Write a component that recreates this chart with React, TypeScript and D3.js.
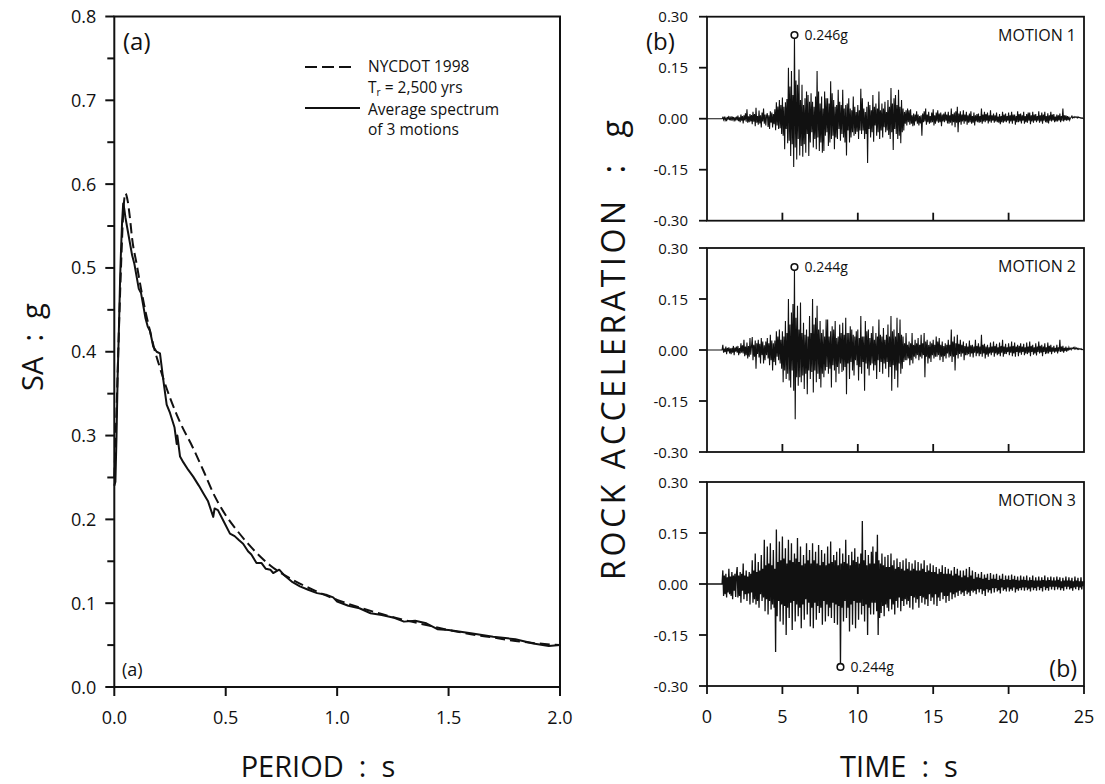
import * as d3 from "d3";

// (a) response spectra: NYCDOT 1998 design spectrum vs average of the 3 motions
const designPeriod = [0, 0.01, 0.02, 0.03, 0.04, 0.05, 0.06, 0.07, 0.08, 0.1, 0.12, 0.14, 0.16, 0.18, 0.2, 0.22, 0.25, 0.28, 0.3, 0.35, 0.4, 0.45, 0.5, 0.55, 0.6, 0.65, 0.7, 0.8, 0.9, 1.0, 1.1, 1.2, 1.3, 1.4, 1.5, 1.6, 1.7, 1.8, 1.9, 2.0];
const designSA = [0.25, 0.33, 0.42, 0.5, 0.565, 0.589, 0.58, 0.56, 0.535, 0.505, 0.475, 0.448, 0.425, 0.403, 0.385, 0.368, 0.345, 0.325, 0.313, 0.287, 0.258, 0.228, 0.205, 0.187, 0.171, 0.157, 0.145, 0.128, 0.115, 0.104, 0.095, 0.087, 0.08, 0.074, 0.068, 0.063, 0.059, 0.055, 0.052, 0.05];

const avgPeriod = [0, 0.005, 0.01, 0.015, 0.02, 0.026, 0.03, 0.035, 0.04, 0.045, 0.05, 0.06, 0.07, 0.08, 0.09, 0.1, 0.11, 0.12, 0.13, 0.14, 0.15, 0.16, 0.175, 0.19, 0.205, 0.22, 0.235, 0.25, 0.27, 0.28, 0.283, 0.295, 0.31, 0.332, 0.354, 0.38, 0.4, 0.42, 0.444, 0.45, 0.465, 0.49, 0.519, 0.54, 0.56, 0.578, 0.6, 0.615, 0.638, 0.66, 0.68, 0.7, 0.713, 0.74, 0.76, 0.8, 0.833, 0.87, 0.91, 0.95, 0.982, 1.0, 1.05, 1.1, 1.15, 1.2, 1.25, 1.3, 1.35, 1.4, 1.45, 1.5, 1.6, 1.7, 1.8, 1.88, 1.95, 2.0];
const avgSA = [0.24, 0.245, 0.3, 0.37, 0.42, 0.486, 0.52, 0.555, 0.577, 0.57, 0.56, 0.545, 0.53, 0.515, 0.505, 0.49, 0.475, 0.47, 0.455, 0.44, 0.43, 0.425, 0.406, 0.4, 0.398, 0.366, 0.337, 0.327, 0.31, 0.29, 0.3, 0.275, 0.268, 0.259, 0.251, 0.24, 0.231, 0.222, 0.203, 0.213, 0.211, 0.198, 0.183, 0.18, 0.175, 0.171, 0.162, 0.158, 0.148, 0.148, 0.141, 0.14, 0.136, 0.14, 0.134, 0.125, 0.12, 0.116, 0.112, 0.11, 0.107, 0.102, 0.097, 0.094, 0.088, 0.086, 0.083, 0.078, 0.079, 0.076, 0.069, 0.068, 0.064, 0.06, 0.057, 0.052, 0.049, 0.05];

const saTicks = [0, 0.1, 0.2, 0.3, 0.4, 0.5, 0.6, 0.7, 0.8];
const saMinorTicks = [0.05, 0.15, 0.25, 0.35, 0.45, 0.55, 0.65, 0.75];
const periodTicks = [0, 0.5, 1.0, 1.5, 2.0];

// (b) rock acceleration records, traced every 0.05 s from t = 1.0 s, in 0.001 g
// (one row = one second)
const ONSET = 1.0;
const DT = 0.05;
const motion1 = [
  0, 4, -3, 6, -5, 2, -7, 5, -3, 8, -4, 3, -6, 7, -2, 5, -8, 4, -3, 6,
  -5, 9, -7, 4, -10, 12, -6, 8, -14, 10, -5, 16, -9, 28, -12, 7, -10, 14, -8, 11,
  -16, 20, -9, 14, -22, 32, -12, 8, -18, 24, -14, 10, -26, 18, -8, 30, -15, 12, -20, 9,
  16, -24, 10, -30, 22, -12, 18, -26, 14, -16, 28, -34, 48, -20, 36, -30, 55, -28, 40, -45,
  62, -50, 35, -90, 48, -30, 58, -72, 150, -65, 95, -110, 140, -75, 70, -142, 246, -85, 112, -120,
  100, -60, 145, -108, 55, -80, 100, -112, 40, -75, 60, -100, 80, -45, 70, -110, 50, -70, 75, -40,
  50, -85, 35, -60, 65, -90, 140, -55, 80, -95, 45, -70, 65, -100, 30, -95, 80, -50, 60, -40,
  60, -80, 45, -70, 110, -60, 75, -50, 55, -90, 35, -55, 40, -60, 85, -30, 50, -65, 40, -45,
  85, -55, 30, -70, 40, -108, 45, -35, 60, -70, 30, -55, 25, -40, 65, -50, 35, -45, 20, -38,
  40, -60, 25, -35, 88, -45, 60, -35, 30, -60, 20, -45, 35, -130, 50, -30, 40, -55, 25, -40,
  70, -68, 35, -20, 45, -50, 30, -40, 80, -60, 25, -35, 45, -55, 30, -25, 50, -40, 20, -35,
  55, -48, 35, -60, 90, -40, 45, -92, 60, -30, 70, -45, 40, -60, 85, -50, 35, -72, 55, -40,
  30, -35, 20, -15, 25, -20, 30, -10, 25, -18, 28, -15, 10, -22, 15, -20, 12, -8, 22, -15,
  12, -20, 8, -14, 10, -50, 15, -10, 22, -8, 30, -18, 12, -10, 20, -15, 8, -12, 18, -10,
  28, -20, 10, -15, 18, -8, 25, -12, 15, -10, 18, -22, 12, -8, 15, -10, 20, -6, 12, -14,
  20, -15, 10, -12, 30, -20, 14, -10, 18, -25, 22, -12, 35, -40, 15, -10, 22, -18, 12, -8,
  25, -15, 12, -8, 20, -18, 10, -12, 15, -10, 22, -15, 8, -12, 18, -20, 10, -8, 14, -10,
  15, -12, 8, -10, 30, -15, 12, -8, 20, -10, 14, -6, 18, -14, 10, -8, 25, -12, 10, -6,
  15, -12, 10, -8, 18, -10, 6, -12, 14, -16, 8, -10, 20, -12, 12, -8, 15, -10, 8, -6,
  18, -14, 10, -8, 20, -15, 12, -6, 12, -18, 8, -10, 22, -10, 14, -8, 15, -14, 10, -6,
  20, -15, 8, -10, 14, -12, 18, -6, 18, -16, 10, -8, 20, -12, 12, -6, 14, -10, 8, -6,
  22, -12, 10, -8, 18, -15, 12, -6, 20, -10, 8, -12, 16, -14, 10, -6, 20, -8, 12, -5,
  14, -10, 6, -8, 12, -8, 10, -5, 15, -10, 8, -6, 30, -8, 10, -4, 10, -6, 8, -4,
  6, -4, 2, 4, 8, 2, 5, 3, 6, 4, 5, 2, 6, 3, 4, 2, 3, 1, 2, 0,
  0,
];
const motion2 = [
  0, 15, -8, 4, -6, 10, -12, 6, -4, 8, -10, 5, -12, 6, -8, 12, -15, 7, -5, 10,
  -8, 12, -15, 6, -10, 20, -8, 14, -10, 30, -18, 10, -15, 22, -25, 12, -20, 35, -14, 10,
  38, -30, 15, -20, 28, -55, 20, -12, 30, -22, 18, -40, 35, -15, 25, -40, 14, -30, 25, -15,
  35, -25, 20, -45, 45, -30, 28, -60, 20, -35, 28, -45, 55, -20, 40, -30, 60, -40, 30, -55,
  55, -95, 40, -60, 85, -85, 50, -70, 150, -90, 75, -110, 110, -60, 135, -120, 244, -204, 95, -80,
  130, -105, 60, -80, 140, -95, 50, -75, 80, -115, 45, -70, 60, -130, 40, -60, 100, -85, 50, -65,
  150, -125, 75, -60, 95, -95, 130, -70, 60, -85, 85, -110, 50, -70, 60, -80, 40, -60, 90, -50,
  90, -70, 40, -55, 55, -110, 70, -45, 60, -60, 85, -95, 35, -50, 40, -70, 75, -40, 50, -65,
  80, -60, 45, -50, 95, -130, 50, -40, 50, -85, 70, -35, 60, -60, 45, -75, 40, -30, 55, -45,
  60, -90, 35, -50, 100, -70, 40, -35, 40, -120, 85, -40, 55, -55, 60, -75, 35, -45, 50, -40,
  70, -60, 30, -45, 50, -85, 40, -30, 90, -65, 45, -35, 40, -70, 65, -40, 30, -55, 45, -35,
  75, -80, 40, -50, 100, -120, 55, -45, 60, -85, 40, -60, 95, -110, 50, -40, 90, -70, 45, -55,
  40, -35, 20, -30, 50, -30, 15, -25, 25, -45, 20, -30, 50, -40, 15, -20, 30, -25, 20, -15,
  35, -30, 15, -20, 45, -25, 20, -15, 50, -80, 25, -20, 30, -40, 15, -25, 25, -35, 20, -15,
  30, -25, 15, -20, 40, -20, 25, -15, 35, -30, 15, -20, 25, -35, 12, -18, 20, -25, 15, -10,
  30, -22, 15, -18, 60, -35, 25, -20, 40, -60, 20, -15, 45, -25, 18, -12, 30, -20, 15, -10,
  25, -30, 12, -15, 20, -15, 10, -12, 28, -20, 14, -10, 15, -22, 10, -8, 30, -18, 12, -10,
  20, -18, 10, -12, 45, -20, 15, -10, 18, -25, 10, -14, 15, -20, 8, -10, 22, -15, 10, -8,
  25, -20, 12, -10, 18, -15, 8, -12, 22, -18, 12, -8, 30, -20, 10, -12, 18, -12, 8, -6,
  20, -15, 10, -8, 25, -18, 12, -10, 22, -20, 10, -6, 15, -18, 12, -8, 20, -14, 10, -6,
  18, -15, 8, -10, 22, -12, 10, -8, 25, -18, 12, -6, 15, -14, 8, -10, 20, -16, 10, -6,
  25, -10, 12, -8, 15, -18, 10, -6, 20, -12, 8, -10, 22, -10, 12, -6, 15, -12, 8, -5,
  12, -8, 6, -5, 15, -10, 8, -4, 30, -6, 10, -4, 12, -8, 6, -3, 10, -5, 6, -2,
  8, 2, 5, 1, 6, 4, 7, 3, 8, 3, 6, 2, 5, 2, 4, 2, 4, 1, 2, 0,
  0,
];
const motion3 = [
  0, 40, -35, 25, -30, 30, -40, 20, -25, 45, -30, 22, -35, 35, -45, 25, -20, 30, -38, 28,
  50, -40, 25, -35, 35, -55, 30, -20, 60, -45, 25, -30, 40, -50, 22, -28, 35, -60, 30, -25,
  70, -55, 40, -45, 90, -60, 35, -50, 65, -70, 40, -30, 85, -50, 45, -40, 130, -80, 55, -45,
  110, -90, 60, -50, 120, -75, 55, -60, 100, -70, 45, -200, 160, -95, 65, -50, 125, -110, 70, -60,
  140, -120, 75, -65, 105, -150, 60, -70, 130, -100, 70, -55, 120, -135, 65, -50, 90, -110, 75, -60,
  135, -95, 65, -70, 110, -130, 55, -60, 85, -105, 60, -45, 120, -90, 70, -55, 100, -125, 60, -70,
  120, -130, 70, -55, 95, -105, 60, -65, 115, -85, 55, -70, 100, -120, 65, -50, 90, -110, 55, -60,
  110, -95, 60, -70, 125, -100, 65, -55, 85, -115, 70, -60, 95, -120, 55, -65, 105, -244, 60, -70,
  90, -110, 65, -50, 130, -100, 60, -70, 85, -140, 55, -60, 95, -120, 70, -50, 105, -130, 65, -55,
  80, -105, 60, -55, 90, -90, 185, -65, 70, -110, 100, -60, 55, -150, 85, -70, 60, -90, 95, -55,
  110, -90, 60, -55, 95, -80, 145, -150, 70, -100, 60, -85, 90, -65, 55, -95, 80, -60, 50, -70,
  85, -80, 50, -45, 90, -75, 55, -60, 70, -90, 45, -50, 75, -70, 50, -40, 65, -80, 45, -50,
  70, -65, 40, -45, 75, -60, 45, -50, 65, -70, 40, -35, 60, -75, 45, -40, 70, -55, 40, -45,
  65, -70, 40, -35, 60, -55, 45, -40, 70, -60, 35, -45, 55, -65, 40, -30, 60, -50, 35, -40,
  55, -60, 35, -30, 50, -65, 30, -40, 45, -50, 35, -25, 55, -45, 30, -35, 50, -55, 30, -35,
  45, -50, 30, -25, 40, -45, 25, -30, 50, -40, 30, -25, 45, -35, 25, -20, 40, -30, 20, -25,
  40, -35, 25, -20, 45, -30, 20, -25, 50, -35, 25, -20, 40, -25, 15, -20, 35, -30, 20, -15,
  30, -25, 18, -15, 35, -30, 15, -20, 28, -35, 18, -15, 30, -25, 12, -18, 32, -28, 15, -12,
  28, -25, 15, -12, 30, -22, 12, -18, 25, -28, 15, -10, 30, -20, 12, -15, 25, -22, 14, -10,
  25, -22, 12, -15, 28, -20, 14, -10, 24, -25, 12, -15, 22, -20, 10, -12, 25, -18, 12, -10,
  22, -20, 12, -10, 25, -18, 10, -14, 20, -22, 12, -10, 25, -18, 10, -12, 20, -20, 10, -8,
  22, -18, 10, -12, 20, -22, 12, -8, 25, -18, 10, -12, 20, -20, 12, -8, 22, -16, 10, -8,
  20, -18, 10, -8, 22, -16, 12, -10, 20, -18, 8, -12, 18, -20, 10, -8, 22, -15, 10, -8,
  20, -16, 10, -12, 18, -20, 8, -10, 22, -15, 10, -8, 18, -18, 8, -10, 20, -16, 8, -6,
  10,
];
const motions = [motion1, motion2, motion3];
const motionNames = ["MOTION 1", "MOTION 2", "MOTION 3"];
const peakLabels = ["0.246g", "0.244g", "0.244g"];
const accTicks = [0.3, 0.15, 0, -0.15, -0.3];
const timeTicks = [0, 5, 10, 15, 20, 25];

const FONT = "'Open Sans', 'Noto Sans', sans-serif";
const INK = "#111";

export default function App() {
  // left chart geometry
  const xA = d3.scaleLinear().domain([0, 2]).range([114.3, 560]);
  const yA = d3.scaleLinear().domain([0, 0.8]).range([687, 16.5]);

  const designLine = d3
    .line<number>()
    .x((_, i) => xA(designPeriod[i]))
    .y((d) => yA(d))
    .curve(d3.curveMonotoneX);
  const avgLine = d3
    .line<number>()
    .x((_, i) => xA(avgPeriod[i]))
    .y((d) => yA(d));

  // right panels
  const xB = d3.scaleLinear().domain([0, 25]).range([707, 1084]);
  const panelTops = [16.7, 248, 482];
  const panelH = 204;

  return (
    <svg
      width={1105}
      height={784}
      style={{ position: "absolute", left: 0, top: 0, background: "#fff" }}
      fontFamily={FONT}
    >
      {/* ---------- (a) spectra ---------- */}
      <g>
        <rect x={xA(0)} y={yA(0.8)} width={xA(2) - xA(0)} height={yA(0) - yA(0.8)} fill="none" stroke={INK} strokeWidth={2} />
        {saTicks.map((t) => (
          <g key={"sa" + t}>
            <line x1={xA(0) - 9} x2={xA(0)} y1={yA(t)} y2={yA(t)} stroke={INK} strokeWidth={2} />
            <text x={xA(0) - 18} y={yA(t) + 6.5} fontSize={18} textAnchor="end" fill={INK}>
              {t.toFixed(1)}
            </text>
          </g>
        ))}
        {saMinorTicks.map((t) => (
          <line key={"sam" + t} x1={xA(0) - 7} x2={xA(0)} y1={yA(t)} y2={yA(t)} stroke={INK} strokeWidth={2} />
        ))}
        {periodTicks.map((t) => (
          <g key={"p" + t}>
            <line x1={xA(t)} x2={xA(t)} y1={yA(0)} y2={yA(0) + 9} stroke={INK} strokeWidth={2} />
            <text x={xA(t)} y={yA(0) + 37} fontSize={18} textAnchor="middle" fill={INK}>
              {t.toFixed(1)}
            </text>
          </g>
        ))}
        <path d={designLine(designSA) || ""} fill="none" stroke={INK} strokeWidth={2} strokeDasharray="10,5" />
        <path d={avgLine(avgSA) || ""} fill="none" stroke={INK} strokeWidth={2} strokeLinejoin="round" />

        {/* legend */}
        <line x1={305} x2={355} y1={67} y2={67} stroke={INK} strokeWidth={2} strokeDasharray="12,5" />
        <text x={368} y={72} fontSize={15.5} fill={INK}>NYCDOT 1998</text>
        <text x={368} y={93} fontSize={15.5} fill={INK}>
          T<tspan fontSize={10} dy={3}>r</tspan>
          <tspan dy={-3}> = 2,500 yrs</tspan>
        </text>
        <line x1={305} x2={360} y1={108} y2={108} stroke={INK} strokeWidth={2} />
        <text x={368} y={115} fontSize={15.5} fill={INK}>Average spectrum</text>
        <text x={368} y={135} fontSize={15.5} fill={INK}>of 3 motions</text>

        <text x={123} y={50} fontSize={24} fill={INK}>(a)</text>
        <text x={122} y={676} fontSize={18} fill={INK}>(a)</text>

        <text transform="translate(43,347) rotate(-90)" fontSize={29} textAnchor="middle" fill={INK} style={{ whiteSpace: "pre" }}>
          {"SA  :  g"}
        </text>
        <text x={318} y={777} fontSize={29} textAnchor="middle" fill={INK} style={{ whiteSpace: "pre" }}>
          {"PERIOD  :  s"}
        </text>
      </g>

      {/* ---------- (b) acceleration records ---------- */}
      {motions.map((m, k) => {
        const top = panelTops[k];
        const yB = d3.scaleLinear().domain([-0.3, 0.3]).range([top + panelH, top]);
        const pts: [number, number][] = [[0, 0], ...m.map((v, i) => [ONSET + i * DT, v / 1000] as [number, number])];
        const trace = d3
          .line<[number, number]>()
          .x((d) => xB(d[0]))
          .y((d) => yB(d[1]));
        const peak = d3.maxIndex(pts, (d) => Math.abs(d[1]));
        const px = xB(pts[peak][0]);
        const py = yB(pts[peak][1]);
        const last = k === motions.length - 1;
        return (
          <g key={"m" + k}>
            <path d={trace(pts) || ""} fill="none" stroke={INK} strokeWidth={last ? 1.3 : 1.1} />
            <rect x={xB(0)} y={top} width={xB(25) - xB(0)} height={panelH} fill="none" stroke={INK} strokeWidth={1.8} />
            {accTicks.map((t) => (
              <g key={"a" + t}>
                <line x1={xB(0) - 8} x2={xB(0)} y1={yB(t)} y2={yB(t)} stroke={INK} strokeWidth={1.8} />
                <text x={xB(0) - 19} y={yB(t) + 5.5} fontSize={15} textAnchor="end" fill={INK}>
                  {t.toFixed(2)}
                </text>
              </g>
            ))}
            {last
              ? timeTicks.map((t) => (
                  <g key={"t" + t}>
                    <line x1={xB(t)} x2={xB(t)} y1={top + panelH} y2={top + panelH + 8} stroke={INK} strokeWidth={1.8} />
                    <text x={xB(t)} y={top + panelH + 37} fontSize={18} textAnchor="middle" fill={INK}>
                      {t}
                    </text>
                  </g>
                ))
              : timeTicks.slice(1, -1).map((t) => (
                  <line key={"t" + t} x1={xB(t)} x2={xB(t)} y1={top + panelH} y2={top + panelH - 8} stroke={INK} strokeWidth={1.8} />
                ))}
            <circle cx={px} cy={py} r={3.3} fill="#fff" stroke={INK} strokeWidth={1.6} />
            <text x={px + 10} y={py + 5} fontSize={14} fill={INK}>
              {peakLabels[k]}
            </text>
            <text x={xB(25) - 8} y={top + 24} fontSize={16} textAnchor="end" fill={INK}>
              {motionNames[k]}
            </text>
          </g>
        );
      })}
      <text x={646} y={50} fontSize={24} fill={INK}>(b)</text>
      <text x={xB(25) - 7} y={677} fontSize={23} textAnchor="end" fill={INK}>(b)</text>
      <text transform="translate(625,350) rotate(-90)" fontSize={32} textAnchor="middle" fill={INK} textLength={460} lengthAdjust="spacing" style={{ whiteSpace: "pre" }}>
        {"ROCK ACCELERATION  :  g"}
      </text>
      <text x={899} y={777} fontSize={29} textAnchor="middle" fill={INK} style={{ whiteSpace: "pre" }}>
        {"TIME  :  s"}
      </text>
    </svg>
  );
}
